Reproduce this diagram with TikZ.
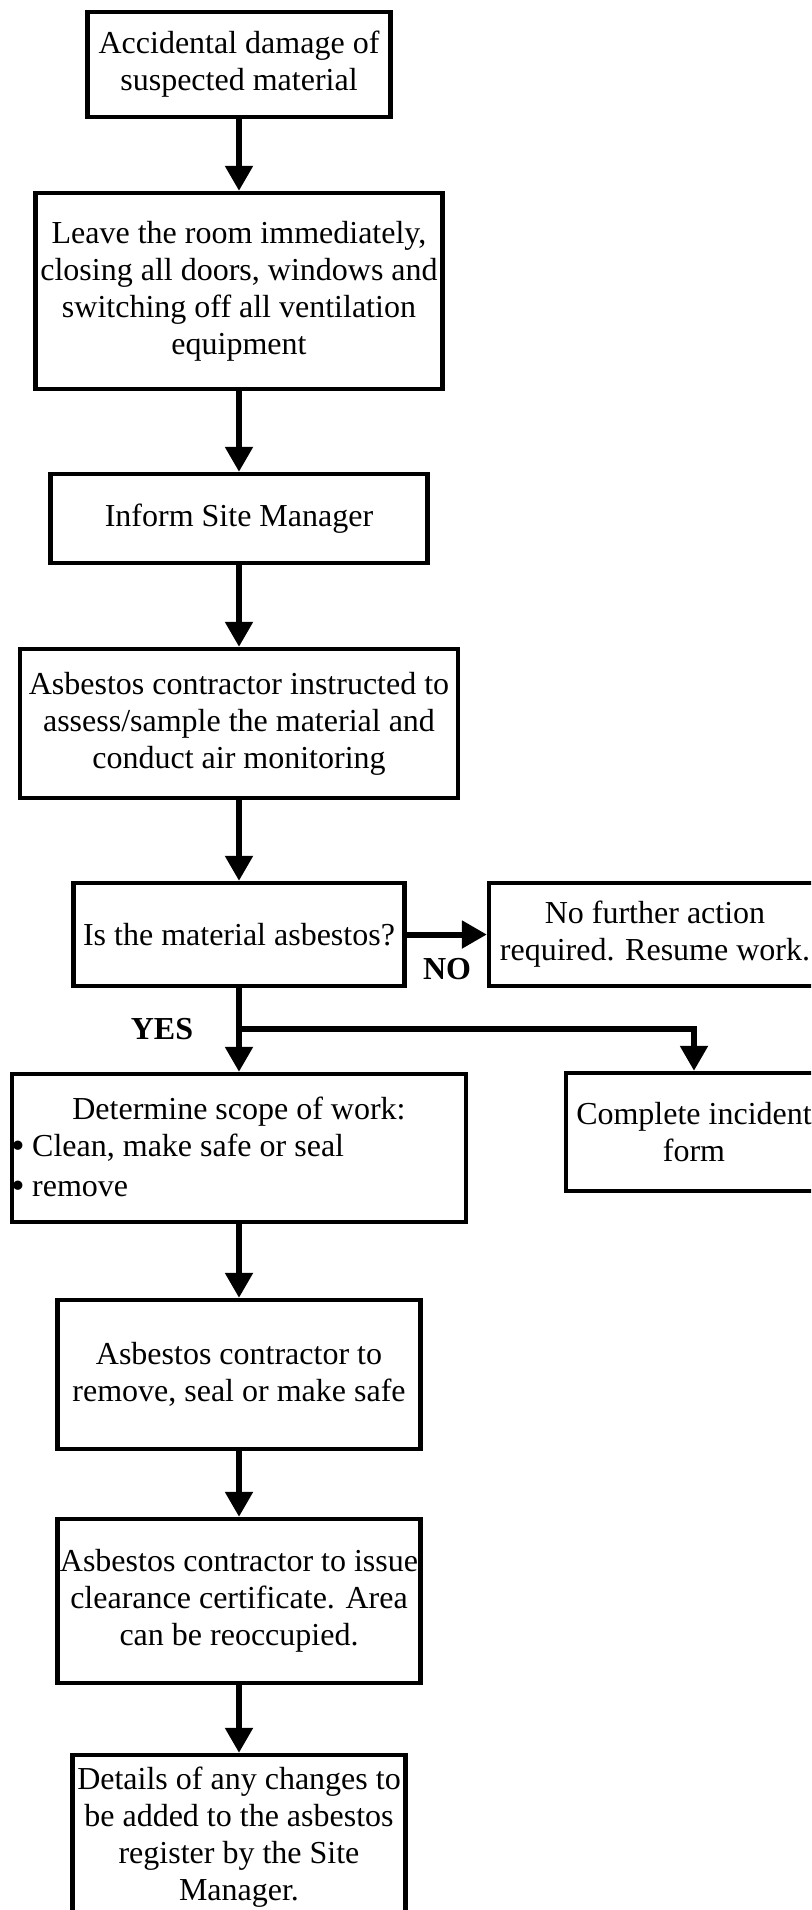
\documentclass[tikz,border=0pt]{standalone}
\usepackage{fontspec}
\setmainfont{Liberation Serif}
\usetikzlibrary{arrows.meta}
\newcommand{\bigbullet}{\raisebox{-1.5pt}{\fontsize{29}{0}\selectfont\textbullet}}

\begin{document}
\begin{tikzpicture}[x=0.75pt, y=-0.75pt,
  >={Triangle[length=18.75pt, width=20pt]},
  box/.style={draw, line width=3.2pt, align=center, inner sep=0pt,
    font=\fontsize{24}{27.75}\selectfont},
  boxsize/.style 2 args={minimum width=#1*0.75pt, minimum height=#2*0.75pt},
  flow/.style={->, line width=4.5pt},
  lbl/.style={font=\fontsize{24}{27.75}\selectfont\bfseries, inner sep=0pt}]
\useasboundingbox (0,0) rectangle (811,1910);
\clip (0,0) rectangle (811,1910);

% main column
\node[box, boxsize={303}{105}] (start) at (239,64.5)
  {Accidental damage of\\suspected material};
\node[box, boxsize={407}{196}] (leave) at (239,291)
  {Leave the room immediately,\\closing all doors, windows and\\switching off all ventilation\\equipment};
\node[box, boxsize={377}{89}] (inform) at (239,518.5) {Inform Site Manager};
\node[box, boxsize={438}{149}] (assess) at (239,723.5)
  {Asbestos contractor instructed to\\assess/sample the material and\\conduct air monitoring};
\node[box, boxsize={331}{103}] (check) at (239,934.5) {Is the material asbestos?};
\node[box, boxsize={454}{148}] (scope) at (239,1148)
  {Determine scope of work:\\
   \makebox[340.5pt][l]{\hspace*{0pt}\bigbullet\hspace{5pt}Clean, make safe or seal}\\[2pt]
   \makebox[340.5pt][l]{\hspace*{0pt}\bigbullet\hspace{5pt}remove}};
\node[box, boxsize={363}{149}] (remove) at (239,1374.5)
  {Asbestos contractor to\\remove, seal or make safe};
\node[box, boxsize={363}{164}] (clear) at (239,1601)
  {Asbestos contractor to issue\\clearance certificate. Area\\can be reoccupied.};
\node[box, boxsize={333}{164}] (register) at (239,1837)
  {Details of any changes to\\be added to the asbestos\\register by the Site\\Manager.};

% side boxes
\node[box, boxsize={332}{103}] (noaction) at (655,934.5)
  {No further action\\required. Resume work.};
\node[box, boxsize={256}{118}] (incident) at (694,1132)
  {Complete incident\\form};

\node[lbl] (nolbl) at (447,969) {NO};
\node[lbl] (yeslbl) at (162,1029) {YES};
\coordinate (split) at (239,1029);

\draw[flow] (start) -- (leave);
\draw[flow] (leave) -- (inform);
\draw[flow] (inform) -- (assess);
\draw[flow] (assess) -- (check);
\draw[flow] (check) -- (noaction);
\draw[flow] (check) -- (scope);
\draw[flow] (split) -| (incident);
\draw[flow] (scope) -- (remove);
\draw[flow] (remove) -- (clear);
\draw[flow] (clear) -- (register);
\end{tikzpicture}
\end{document}
